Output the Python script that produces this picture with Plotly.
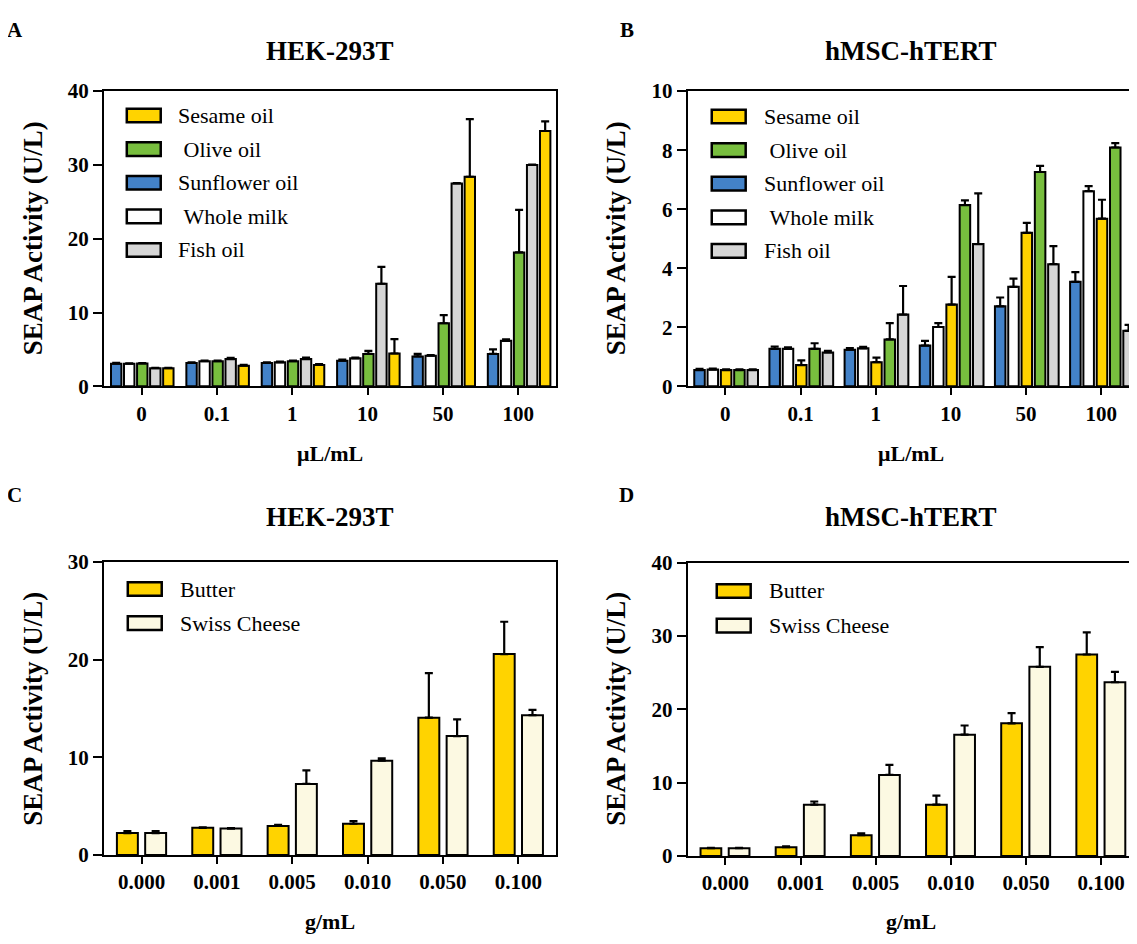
import plotly.graph_objects as go

# ---------------- data ----------------
oil_doses = ["0", "0.1", "1", "10", "50", "100"]
fat_doses = ["0.000", "0.001", "0.005", "0.010", "0.050", "0.100"]

# Panel A (HEK-293T, oils) -- bar order within groups
a_order = ["Sunflower oil", "Whole milk", "Olive oil", "Fish oil", "Sesame oil"]
a_sunflower = [3.08, 3.17, 3.17, 3.48, 4.05, 4.4]
a_sunflower_err = [0.1, 0.1, 0.1, 0.15, 0.35, 0.6]
a_milk = [3.08, 3.4, 3.26, 3.8, 4.15, 6.17]
a_milk_err = [0.05, 0.1, 0.1, 0.1, 0.1, 0.2]
a_olive = [3.1, 3.4, 3.4, 4.4, 8.55, 18.15]
a_olive_err = [0.05, 0.1, 0.1, 0.4, 1.1, 5.75]
a_fish = [2.47, 3.7, 3.7, 13.9, 27.5, 30.0]
a_fish_err = [0.05, 0.15, 0.2, 2.3, 0.05, 0.05]
a_sesame = [2.47, 2.8, 2.9, 4.45, 28.4, 34.6]
a_sesame_err = [0.05, 0.1, 0.1, 1.95, 7.8, 1.3]

# Panel B (hMSC-hTERT, oils)
b_order = ["Sunflower oil", "Whole milk", "Sesame oil", "Olive oil", "Fish oil"]
b_sunflower = [0.55, 1.27, 1.24, 1.38, 2.71, 3.54]
b_sunflower_err = [0.04, 0.08, 0.06, 0.16, 0.3, 0.33]
b_milk = [0.57, 1.27, 1.29, 2.01, 3.37, 6.61]
b_milk_err = [0.03, 0.05, 0.05, 0.13, 0.28, 0.17]
b_sesame = [0.55, 0.72, 0.82, 2.77, 5.2, 5.68]
b_sesame_err = [0.03, 0.16, 0.15, 0.94, 0.34, 0.64]
b_olive = [0.55, 1.27, 1.59, 6.14, 7.26, 8.09]
b_olive_err = [0.03, 0.19, 0.55, 0.16, 0.21, 0.15]
b_fish = [0.55, 1.15, 2.43, 4.82, 4.14, 1.88]
b_fish_err = [0.03, 0.05, 0.97, 1.72, 0.61, 0.2]

# Panel C (HEK-293T, fats)
c_butter = [2.25, 2.78, 2.98, 3.2, 14.05, 20.56]
c_butter_err = [0.2, 0.05, 0.1, 0.27, 4.55, 3.3]
c_swiss = [2.25, 2.71, 7.27, 9.65, 12.17, 14.31]
c_swiss_err = [0.2, 0.05, 1.39, 0.23, 1.71, 0.53]

# Panel D (hMSC-hTERT, fats)
d_butter = [1.06, 1.2, 2.83, 7.0, 18.1, 27.48]
d_butter_err = [0.05, 0.13, 0.27, 1.23, 1.4, 3.02]
d_swiss = [1.06, 7.0, 11.06, 16.55, 25.8, 23.7]
d_swiss_err = [0.05, 0.43, 1.37, 1.25, 2.7, 1.4]

oil_legend = ["Sesame oil", "Olive oil", "Sunflower oil", "Whole milk", "Fish oil"]
fat_legend = ["Butter", "Swiss Cheese"]

# ---------------- styles ----------------
colors = {
    "Sesame oil": "#FFD300",
    "Olive oil": "#78BE3E",
    "Sunflower oil": "#4382C8",
    "Whole milk": "#FFFFFF",
    "Fish oil": "#D6D6D6",
    "Butter": "#FFD300",
    "Swiss Cheese": "#FCF9E2",
}
legend_labels = {
    "Olive oil": "\u00a0Olive oil",
    "Whole milk": "\u00a0Whole milk",
}
SERIF = "Liberation Serif, Times New Roman, serif"

# the page body has an 8px margin; figure fills the rest of the 1137x944 window
OFF = 8
W, H = 1137 - OFF, 944 - OFF


def px(X):
    return (X - OFF) / W


def py(Y):
    return 1 - (Y - OFF) / H


fig = go.Figure()

RIGHT = 1137
panels = {
    "A": dict(xa="x", ya="y", xd=(px(104), px(557)), yd=(py(384), py(81))),
    "B": dict(xa="x2", ya="y2", xd=(px(689), px(RIGHT)), yd=(py(384), py(81))),
    "C": dict(xa="x3", ya="y3", xd=(px(104), px(557)), yd=(py(865), py(564))),
    "D": dict(xa="x4", ya="y4", xd=(px(689), px(RIGHT)), yd=(py(866), py(565))),
}


def add_group(panel, cats, series, slot, width, shift=0.0):
    p = panels[panel]
    n = len(series)
    for i, (name, vals, errs) in enumerate(series):
        off = (i - (n - 1) / 2) * slot + shift - width / 2
        fig.add_trace(go.Bar(
            x=cats, y=vals, name=name, showlegend=False,
            xaxis=p["xa"], yaxis=p["ya"],
            offset=off, width=width,
            marker=dict(color=colors[name], line=dict(color="black", width=2)),
            error_y=dict(type="data", array=errs, arrayminus=[0] * len(errs),
                         symmetric=False, color="black", thickness=2.2, width=4),
        ))


a_vals = {"Sunflower oil": (a_sunflower, a_sunflower_err), "Whole milk": (a_milk, a_milk_err),
          "Olive oil": (a_olive, a_olive_err), "Fish oil": (a_fish, a_fish_err),
          "Sesame oil": (a_sesame, a_sesame_err)}
b_vals = {"Sunflower oil": (b_sunflower, b_sunflower_err), "Whole milk": (b_milk, b_milk_err),
          "Sesame oil": (b_sesame, b_sesame_err), "Olive oil": (b_olive, b_olive_err),
          "Fish oil": (b_fish, b_fish_err)}

add_group("A", oil_doses, [(n, *a_vals[n]) for n in a_order], 0.173, 0.138, 0.01)
add_group("B", oil_doses, [(n, *b_vals[n]) for n in b_order], 0.177, 0.14, 0.01)
add_group("C", fat_doses, [("Butter", c_butter, c_butter_err), ("Swiss Cheese", c_swiss, c_swiss_err)],
          0.375, 0.278, 0.0)
add_group("D", fat_doses, [("Butter", d_butter, d_butter_err), ("Swiss Cheese", d_swiss, d_swiss_err)],
          0.375, 0.276, -0.005)

axis_common = dict(showline=True, linecolor="black", linewidth=2, mirror=True,
                   showgrid=False, zeroline=False, ticks="outside", tickcolor="black",
                   tickwidth=2, tickfont=dict(family=SERIF, size=21, color="black", weight="bold"))

y_ranges = {"A": ([0, 40], 10), "B": ([0, 10], 2), "C": ([0, 30], 10), "D": ([0, 40], 10)}

# the right panels run past the picture edge: keep the same category spacing (~75.3 px)
SPACING = 75.3
x_ranges = {"A": [-0.5, 5.5], "C": [-0.5, 5.5],
            "B": [-0.5, (RIGHT - 689) / SPACING - 0.5], "D": [-0.5, (RIGHT - 689) / SPACING - 0.5]}

layout_axes = {}
for key, p in panels.items():
    xname = "xaxis" + p["xa"][1:]
    yname = "yaxis" + p["ya"][1:]
    layout_axes[xname] = dict(axis_common, domain=list(p["xd"]), anchor=p["ya"],
                              type="category", range=x_ranges[key], ticklen=7)
    rng, dt = y_ranges[key]
    layout_axes[yname] = dict(axis_common, domain=list(p["yd"]), anchor=p["xa"],
                              range=rng, dtick=dt, ticklen=9)

fig.update_layout(**layout_axes)

annotations = []
shapes = []

# Panel letters
for letter, (x, y) in {"A": (15, 18), "B": (628, 18), "C": (15, 495), "D": (628, 495)}.items():
    annotations.append(dict(text=f"<b>{letter}</b>", x=px(x), y=py(y), xref="paper", yref="paper",
                            showarrow=False, xanchor="center", yanchor="middle",
                            font=dict(family=SERIF, size=21, color="black")))

# Titles
for title, cx, ty in [("HEK-293T", 331, 40), ("hMSC-hTERT", 913, 40),
                      ("HEK-293T", 331, 518), ("hMSC-hTERT", 913, 518)]:
    annotations.append(dict(text=f"<b>{title}</b>", x=px(cx), y=py(ty), xref="paper", yref="paper",
                            showarrow=False, xanchor="center", yanchor="middle",
                            font=dict(family=SERIF, size=27, color="black")))

# X-axis titles
for title, cx, ty in [("μL/mL", 331, 453), ("μL/mL", 913, 453),
                      ("g/mL", 331, 933), ("g/mL", 913, 933)]:
    annotations.append(dict(text=f"<b>{title}</b>", x=px(cx), y=py(ty), xref="paper", yref="paper",
                            showarrow=False, xanchor="center", yanchor="middle",
                            font=dict(family=SERIF, size=22, color="black")))

# Y-axis titles
for tx, cy in [(33, 232), (617, 232), (33, 715), (617, 715)]:
    annotations.append(dict(text="<b>SEAP Activity (U/L)</b>", x=px(tx), y=py(cy), xref="paper", yref="paper",
                            showarrow=False, xanchor="center", yanchor="middle", textangle=-90,
                            font=dict(family=SERIF, size=27, color="black")))

# Custom legends (wide swatches like the original), positions in reference pixels
legend_specs = {
    "A": dict(names=oil_legend, x0=127, x1=161, tx=176, y0=106, dy=34.5),
    "B": dict(names=oil_legend, x0=713, x1=747, tx=763, y0=107, dy=34.5),
    "C": dict(names=fat_legend, x0=128, x1=162, tx=178, y0=592, dy=35),
    "D": dict(names=fat_legend, x0=718, x1=752, tx=768, y0=594, dy=35.5),
}
for key, spec in legend_specs.items():
    for i, name in enumerate(spec["names"]):
        yc = spec["y0"] + i * spec["dy"]
        shapes.append(dict(type="rect", xref="paper", yref="paper",
                           x0=px(spec["x0"]), x1=px(spec["x1"]),
                           y0=py(yc + 7), y1=py(yc - 7),
                           fillcolor=colors[name], line=dict(color="black", width=2.5)))
        annotations.append(dict(text=legend_labels.get(name, name), x=px(spec["tx"]), y=py(yc),
                                xref="paper", yref="paper", showarrow=False,
                                xanchor="left", yanchor="middle",
                                font=dict(family=SERIF, size=22, color="black")))

fig.update_layout(
    width=W, height=H,
    margin=dict(l=0, r=0, t=0, b=0),
    paper_bgcolor="white", plot_bgcolor="white",
    barmode="overlay",
    showlegend=False,
    annotations=annotations,
    shapes=shapes,
    font=dict(family=SERIF, color="black"),
)

fig.write_html("out.html")
